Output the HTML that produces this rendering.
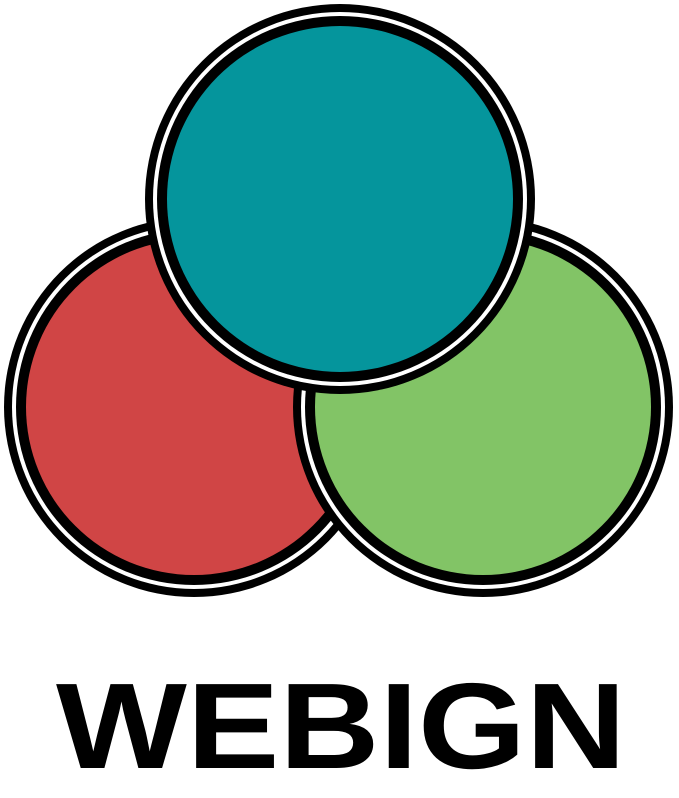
<!DOCTYPE html>
<html><head><meta charset="utf-8"><style>html,body{margin:0;padding:0;background:#fff;}svg{display:block}</style></head>
<body>
<svg width="679" height="798" viewBox="0 0 679 798" xmlns="http://www.w3.org/2000/svg">
  <g>
    <circle cx="194" cy="407" r="190" fill="#000"/>
    <circle cx="194" cy="407" r="182" fill="#fff"/>
    <circle cx="194" cy="407" r="178" fill="#000"/>
    <circle cx="194" cy="407" r="168" fill="#d04545"/>
  </g>
  <g>
    <circle cx="483" cy="407" r="190" fill="#000"/>
    <circle cx="483" cy="407" r="182" fill="#fff"/>
    <circle cx="483" cy="407" r="178" fill="#000"/>
    <circle cx="483" cy="407" r="168" fill="#82c466"/>
  </g>
  <g>
    <circle cx="340" cy="199" r="195" fill="#000"/>
    <circle cx="340" cy="199" r="187" fill="#fff"/>
    <circle cx="340" cy="199" r="183" fill="#000"/>
    <circle cx="340" cy="199" r="173" fill="#05959c"/>
  </g>
  <text x="56" y="768" font-family="'Liberation Sans', sans-serif" font-weight="bold" font-size="122" textLength="570" lengthAdjust="spacingAndGlyphs" fill="#000">WEBIGN</text>
</svg>
</body></html>
